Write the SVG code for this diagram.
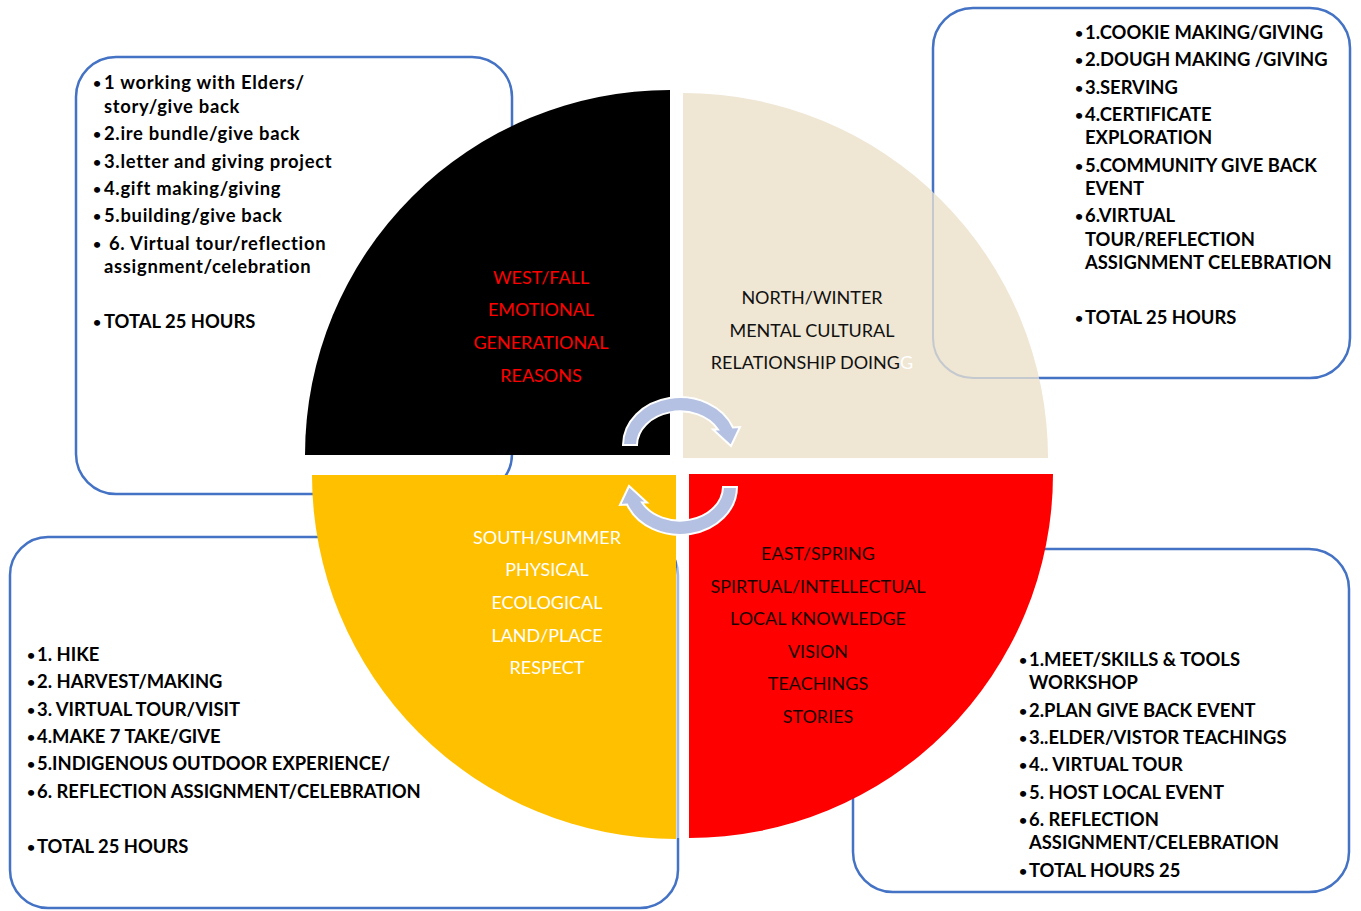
<svg xmlns="http://www.w3.org/2000/svg" width="1361" height="911" viewBox="0 0 1361 911">
<style>
.box{fill:none;stroke:#4472C4;stroke-width:2.5}
.lst{font-family:Lato,"Open Sans",sans-serif;font-weight:700;font-size:18.4px;fill:#000}
.lst text{font-size:14px}
.lst tspan,.lst text.t{font-size:18.4px}
.lc{letter-spacing:0.7px}
.ctr{font-family:Lato,"Open Sans",sans-serif;font-size:18px;text-anchor:middle}
.arr{fill:#B4C1E3;stroke:#fff;stroke-width:2}
</style>
<rect width="1361" height="911" fill="#fff"/>
<g id="boxes">
<rect id="box-west" class="box" x="76" y="57" width="436" height="437" rx="40"/>
<rect id="box-north" class="box" x="933" y="8" width="417" height="370" rx="40"/>
<rect id="box-south" class="box" x="10" y="537" width="668" height="371" rx="38"/>
<rect id="box-east" class="box" x="853" y="549" width="496" height="343" rx="40"/>
</g>
<g id="wheel">
<path id="q-west" d="M670,455 L305,455 A365,365 0 0 1 670,90 Z" fill="#000"/>
<path id="q-north" d="M683,458 L683,93 A365,365 0 0 1 1048,458 Z" fill="#EFE6D3"/>
<path id="q-south" d="M676,475 L676,839 A364,364 0 0 1 312,475 Z" fill="#FFC000"/>
<path id="q-east" d="M689,474 L1053,474 A364,364 0 0 1 689,838 Z" fill="#FF0000"/>
<rect x="677" y="476" width="11" height="362" fill="#fff" opacity="0.5"/>
<path d="M933,192 L933,338 A40,40 0 0 0 973,378 L1040,378" fill="none" stroke="#4472C4" stroke-width="2" opacity="0.25"/>
</g>
<g id="connectors">
<path class="arr" d="M623,445 A57,48 0 0 1 733,427.5 L740,427 L731,446 L713,429.5 L718,429.5 A43,34 0 0 0 637,445 Z"/>
<path class="arr" transform="rotate(180 680 466)" d="M623,445 A57,48 0 0 1 733,427.5 L740,427 L731,446 L713,429.5 L718,429.5 A43,34 0 0 0 637,445 Z"/>
</g>
<g id="west-label" class="ctr" fill="#FF0000">
<text x="541" y="284">WEST/FALL</text>
<text x="541" y="316">EMOTIONAL</text>
<text x="541" y="349">GENERATIONAL</text>
<text x="541" y="382">REASONS</text>
</g>
<g id="north-label" class="ctr" fill="#111">
<text x="812" y="304">NORTH/WINTER</text>
<text x="812" y="337">MENTAL CULTURAL</text>
<text x="812" y="369">RELATIONSHIP DOING<tspan fill="#fff">G</tspan></text>
</g>
<g id="south-label" class="ctr" fill="#fff">
<text x="547" y="544">SOUTH/SUMMER</text>
<text x="547" y="576">PHYSICAL</text>
<text x="547" y="609">ECOLOGICAL</text>
<text x="547" y="642">LAND/PLACE</text>
<text x="547" y="674">RESPECT</text>
</g>
<g id="east-label" class="ctr" fill="#1a0000">
<text x="818" y="560">EAST/SPRING</text>
<text x="818" y="593">SPIRTUAL/INTELLECTUAL</text>
<text x="818" y="625">LOCAL KNOWLEDGE</text>
<text x="818" y="658">VISION</text>
<text x="818" y="690">TEACHINGS</text>
<text x="818" y="723">STORIES</text>
</g>
<g id="west-list" class="lst">
<text x="93" y="88">•<tspan x="104" y="89" class="lc">1 working with Elders/</tspan></text>
<text x="104" y="113" class="t lc">story/give back</text>
<text x="93" y="139">•<tspan x="104" y="140" class="lc">2.ire bundle/give back</tspan></text>
<text x="93" y="167">•<tspan x="104" y="168" class="lc">3.letter and giving project</tspan></text>
<text x="93" y="194">•<tspan x="104" y="195" class="lc">4.gift making/giving</tspan></text>
<text x="93" y="221">•<tspan x="104" y="222" class="lc">5.building/give back</tspan></text>
<text x="93" y="249">•<tspan x="109" y="250" class="lc">6. Virtual tour/reflection</tspan></text>
<text x="104" y="273" class="t lc">assignment/celebration</text>
<text x="93" y="327">•<tspan x="104" y="328">TOTAL 25 HOURS</tspan></text>
</g>
<g id="north-list" class="lst">
<text x="1075" y="38">•<tspan x="1085" y="39">1.COOKIE MAKING/GIVING</tspan></text>
<text x="1075" y="65">•<tspan x="1085" y="66">2.DOUGH MAKING /GIVING</tspan></text>
<text x="1075" y="93">•<tspan x="1085" y="94">3.SERVING</tspan></text>
<text x="1075" y="120">•<tspan x="1085" y="121">4.CERTIFICATE</tspan></text>
<text x="1085" y="144" class="t">EXPLORATION</text>
<text x="1075" y="171">•<tspan x="1085" y="172">5.COMMUNITY GIVE BACK</tspan></text>
<text x="1085" y="195" class="t">EVENT</text>
<text x="1075" y="221">•<tspan x="1085" y="222">6.VIRTUAL</tspan></text>
<text x="1085" y="246" class="t">TOUR/REFLECTION</text>
<text x="1085" y="269" class="t">ASSIGNMENT CELEBRATION</text>
<text x="1075" y="323">•<tspan x="1085" y="324">TOTAL 25 HOURS</tspan></text>
</g>
<g id="south-list" class="lst">
<text x="27" y="660">•<tspan x="37" y="661">1. HIKE</tspan></text>
<text x="27" y="687">•<tspan x="37" y="688">2. HARVEST/MAKING</tspan></text>
<text x="27" y="715">•<tspan x="37" y="716">3. VIRTUAL TOUR/VISIT</tspan></text>
<text x="27" y="742">•<tspan x="37" y="743">4.MAKE 7 TAKE/GIVE</tspan></text>
<text x="27" y="769">•<tspan x="37" y="770">5.INDIGENOUS OUTDOOR EXPERIENCE/</tspan></text>
<text x="27" y="797">•<tspan x="37" y="798">6. REFLECTION ASSIGNMENT/CELEBRATION</tspan></text>
<text x="27" y="852">•<tspan x="37" y="853">TOTAL 25 HOURS</tspan></text>
</g>
<g id="east-list" class="lst">
<text x="1019" y="665">•<tspan x="1029" y="666">1.MEET/SKILLS &amp; TOOLS</tspan></text>
<text x="1029" y="689" class="t">WORKSHOP</text>
<text x="1019" y="716">•<tspan x="1029" y="717">2.PLAN GIVE BACK EVENT</tspan></text>
<text x="1019" y="743">•<tspan x="1029" y="744">3..ELDER/VISTOR TEACHINGS</tspan></text>
<text x="1019" y="770">•<tspan x="1029" y="771">4.. VIRTUAL TOUR</tspan></text>
<text x="1019" y="798">•<tspan x="1029" y="799">5. HOST LOCAL EVENT</tspan></text>
<text x="1019" y="825">•<tspan x="1029" y="826">6. REFLECTION</tspan></text>
<text x="1029" y="849" class="t">ASSIGNMENT/CELEBRATION</text>
<text x="1019" y="876">•<tspan x="1029" y="877">TOTAL HOURS 25</tspan></text>
</g>
</svg>
